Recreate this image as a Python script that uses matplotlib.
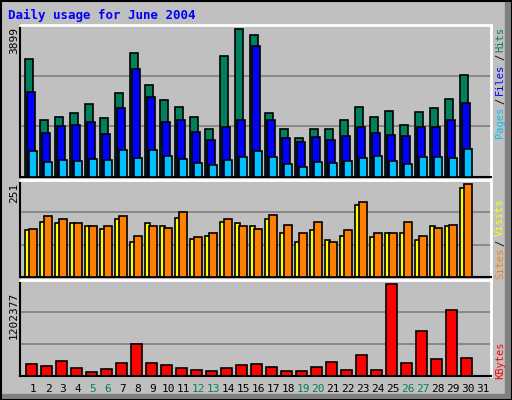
import matplotlib
matplotlib.use("Agg")
import matplotlib.pyplot as plt
from matplotlib.patches import Rectangle
import numpy as np

days = list(range(1, 32))
weekend = [5, 6, 12, 13, 19, 20, 26, 27]
hits = [3105, 1518, 1597, 1677, 1915, 1545, 2206, 3264, 2418, 2021, 1836, 1571, 1280, 3185, 3899,
        3740, 1677, 1280, 1042, 1280, 1280, 1492, 1836, 1597, 1730, 1386, 1703, 1809, 2047, 2682]
files = [2232, 1174, 1359, 1386, 1465, 1148, 1809, 2841, 2100, 1465, 1518, 1201, 989, 1333, 1518,
         3449, 1492, 1042, 936, 1069, 989, 1095, 1307, 1174, 1122, 1095, 1333, 1333, 1492, 1942]
pages = [698, 407, 460, 434, 487, 460, 725, 513, 725, 566, 487, 381, 328, 460, 540,
         698, 540, 354, 275, 407, 381, 434, 513, 566, 434, 354, 540, 540, 513, 751]
sites = [126, 150, 145, 145, 137, 129, 158, 96, 145, 139, 161, 104, 112, 150, 145,
         137, 156, 118, 96, 126, 99, 112, 196, 109, 120, 118, 101, 139, 139, 240]
visits = [130, 164, 158, 145, 139, 137, 164, 112, 139, 134, 175, 109, 120, 156, 139,
          131, 167, 142, 120, 150, 96, 126, 202, 118, 118, 150, 112, 134, 142, 251]
kbytes = [162000, 136000, 202000, 110000, 57000, 97000, 176000, 412000, 176000, 149000, 110000,
          83000, 70000, 110000, 149000, 162000, 123000, 70000, 70000, 123000, 189000, 83000,
          268000, 83000, 1202377, 176000, 584000, 228000, 860000, 241000]

W, H = 512, 400
BG = "#c0c0c0"
fig = plt.figure(figsize=(W/100, H/100), dpi=100, facecolor=BG)
mono = "DejaVu Sans Mono"

def ax_at(x0, y0, x1, y1):
    return fig.add_axes([x0/W, 1-y1/H, (x1-x0)/W, (y1-y0)/H])

# border/shadow
fig.patches.append(Rectangle((505/W, 0), 7/W, 1, transform=fig.transFigure, color="#808080", zorder=0))
fig.patches.append(Rectangle((0, 0), 1, 6/H, transform=fig.transFigure, color="#808080", zorder=0))
fig.patches.append(Rectangle((0.5/W, 0.5/H), 1-1/W, 1-1/H, transform=fig.transFigure, fill=False,
                             edgecolor="black", lw=1.5, zorder=5))

x = np.arange(1, len(hits)+1)
xl = (1-11/15, 1-11/15+471/15)

def setup(ax, top):
    ax.set_facecolor(BG)
    ax.set_xlim(*xl)
    ax.set_ylim(0, top)
    ax.set_xticks([]); ax.set_yticks([])
    for s in ax.spines.values():
        s.set_color("black"); s.set_linewidth(1.5)
    ax.spines["top"].set_color("white"); ax.spines["right"].set_color("white")
    ax.spines["top"].set_linewidth(2); ax.spines["right"].set_linewidth(2)
    for f in (1/3, 2/3):
        ax.axhline(top*f, color="#808080", lw=1.2, zorder=0)

ek = dict(edgecolor="black", linewidth=1.2)
ax1 = ax_at(20, 25, 491, 177)
setup(ax1, 4013)
ax1.bar(x-0.13, hits, 0.5, color="#00805c", **ek, zorder=2)
ax1.bar(x, files, 0.53, color="#0000ff", **ek, zorder=3)
ax1.bar(x+0.12, pages, 0.5, color="#00c0ff", **ek, zorder=4)

ax2 = ax_at(20, 180, 491, 277)
setup(ax2, 262.7)
ax2.bar(x-0.22, sites, 0.33, color="#ffff00", **ek, zorder=2)
ax2.bar(x+0.13, visits, 0.5, color="#ff8000", **ek, zorder=3)

ax3 = ax_at(20, 280, 491, 376)
setup(ax3, 1.255e6)
ax3.bar(x+0.03, kbytes, 0.68, color="#ff0000", **ek, zorder=2)

def t(px, py, s, **kw):
    fig.text(px/W, 1-py/H, s, family=mono, **kw)

t(8, 15, "Daily usage for June 2004", color="#0000ff", fontsize=9, fontweight="bold", va="center")
t(14, 40, str(max(hits)), rotation=90, fontsize=8, ha="center", va="center")
t(14, 193, str(max(visits)), rotation=90, fontsize=8, ha="center", va="center")
t(14, 315, str(max(kbytes)), rotation=90, fontsize=8, ha="center", va="center")

rk = dict(rotation=90, fontsize=7.5, ha="center", va="center")
t(500, 122, "Pages", color="#00c0ff", **rk)
t(500, 101, "/", color="black", **rk)
t(500, 79, "Files", color="#0000ff", **rk)
t(500, 57, "/", color="black", **rk)
t(500, 40, "Hits", color="#00805c", **rk)
t(500, 263, "Sites", color="#ff8000", **rk)
t(500, 243, "/", color="black", **rk)
t(500, 217, "Visits", color="#ffff00", **rk)
t(500, 360, "KBytes", color="#ff0000", **rk)

for d in days:
    px = 33 + 15*(d-1)
    t(px, 389, str(d), color="#00805c" if d in weekend else "black", fontsize=8, ha="center", va="center")

fig.savefig("out.png", dpi=100, facecolor=BG)
